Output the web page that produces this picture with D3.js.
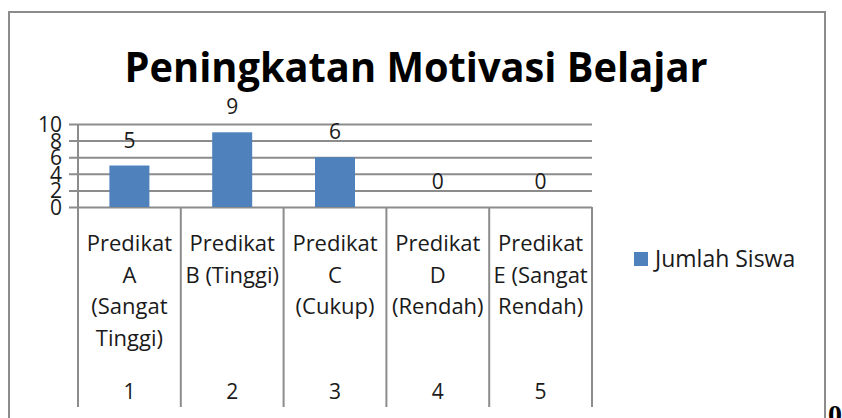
<!DOCTYPE html>
<html lang="id">
<head>
    <meta charset="UTF-8">
    <title>Peningkatan Motivasi Belajar</title>
    <script src="https://d3js.org/d3.v7.min.js"></script>
    <style>
        body{
            margin: 0;
            background: #ffffff;
        }
        #canvas text{
            font-family: "Open Sans", "Noto Sans", sans-serif;
            fill: #1a1a1a;
        }
        .grid line{
            stroke: #8c8c8c;
            stroke-width: 2px;
        }
    </style>
</head>
<body>
<svg id="canvas" width="842" height="418"></svg>
<script>
    let categories = ["1", "2", "3", "4", "5"]
    let categoryLabels = [
        ["Predikat", "A", "(Sangat", "Tinggi)"],
        ["Predikat", "B (Tinggi)"],
        ["Predikat", "C", "(Cukup)"],
        ["Predikat", "D", "(Rendah)"],
        ["Predikat", "E (Sangat", "Rendah)"]
    ]
    let jumlahSiswa = [5, 9, 6, 0, 0]
    let yTicks = [0, 2, 4, 6, 8, 10]
    let seriesName = "Jumlah Siswa"
    let chartTitle = "Peningkatan Motivasi Belajar"

    let barColor = "#4f81bd"
    let lineColor = "#8c8c8c"

    let svg = d3.select("#canvas")

    // chart frame (bottom edge runs off the page)
    svg.append("path")
        .attr("d", "M9,440 V12 H825 V440")
        .attr("fill", "none")
        .attr("stroke", lineColor)
        .attr("stroke-width", 2)

    svg.append("text")
        .attr("x", 416)
        .attr("y", 82)
        .attr("text-anchor", "middle")
        .attr("font-size", 42)
        .attr("font-weight", "bold")
        .attr("textLength", 583)
        .attr("lengthAdjust", "spacingAndGlyphs")
        .style("fill", "#000")
        .text(chartTitle)

    let plotLeft = 78, plotRight = 592, plotTop = 124, plotBottom = 207

    let x = d3.scaleBand().domain(categories).range([plotLeft, plotRight]).padding(0)
    let y = d3.scaleLinear().domain([0, 10]).range([plotBottom, plotTop])

    // horizontal gridlines + y axis
    let yAxis = d3.axisLeft(y).tickValues(yTicks).tickSize(-(plotRight - plotLeft)).tickSizeOuter(0).tickPadding(16)
    let gy = svg.append("g").attr("class", "grid")
        .attr("transform", `translate(${plotLeft},0)`)
        .call(yAxis)
    gy.select(".domain").remove()
    gy.selectAll(".tick line").attr("x1", -9).attr("x2", plotRight - plotLeft)
    gy.selectAll(".tick text")
        .attr("font-size", 21)
        .attr("dy", "0.36em")
        .style("font-family", "'Open Sans', sans-serif")

    // vertical y axis line
    svg.append("line")
        .attr("x1", plotLeft).attr("x2", plotLeft)
        .attr("y1", plotTop).attr("y2", plotBottom)
        .attr("stroke", lineColor).attr("stroke-width", 2)

    // category dividers (below axis)
    let edges = categories.map(c => x(c)).concat([x(categories[categories.length - 1]) + x.bandwidth()])
    svg.append("g").selectAll("line")
        .data(edges)
        .join("line")
        .attr("x1", d => d).attr("x2", d => d)
        .attr("y1", plotBottom).attr("y2", 407)
        .attr("stroke", lineColor).attr("stroke-width", 2)

    // bars
    let barW = 40
    svg.append("g").selectAll("rect")
        .data(jumlahSiswa)
        .join("rect")
        .attr("x", (d, i) => x(categories[i]) + x.bandwidth() / 2 - barW / 2)
        .attr("y", d => y(d))
        .attr("width", barW)
        .attr("height", d => plotBottom - y(d))
        .attr("fill", barColor)

    // value labels
    svg.append("g").selectAll("text")
        .data(jumlahSiswa)
        .join("text")
        .attr("x", (d, i) => x(categories[i]) + x.bandwidth() / 2)
        .attr("y", d => y(d) - 18)
        .attr("text-anchor", "middle")
        .attr("font-size", 21)
        .text(d => d)

    // category labels
    let catG = svg.append("g").selectAll("g")
        .data(categories)
        .join("g")
        .attr("transform", d => `translate(${x(d) + x.bandwidth() / 2},0)`)
    catG.each(function (d, i) {
        let g = d3.select(this)
        g.selectAll("text.lbl")
            .data(categoryLabels[i])
            .join("text")
            .attr("class", "lbl")
            .attr("y", (t, j) => 251 + j * 31.5)
            .attr("text-anchor", "middle")
            .attr("font-size", 22)
            .text(t => t)
        g.append("text")
            .attr("y", 399)
            .attr("text-anchor", "middle")
            .attr("font-size", 21)
            .text(d)
    })

    // legend
    let legend = svg.append("g").attr("transform", "translate(634,252)")
    legend.append("rect").attr("width", 14).attr("height", 14).attr("fill", barColor)
    legend.append("text").attr("x", 21).attr("y", 15).attr("font-size", 23).text(seriesName)

    // stray bold "0" from the surrounding document
    svg.append("text")
        .attr("x", 828)
        .attr("y", 424)
        .attr("font-size", 28)
        .attr("font-weight", "bold")
        .style("font-family", "'Liberation Serif', serif")
        .style("fill", "#000")
        .text("0")
</script>
</body>
</html>
